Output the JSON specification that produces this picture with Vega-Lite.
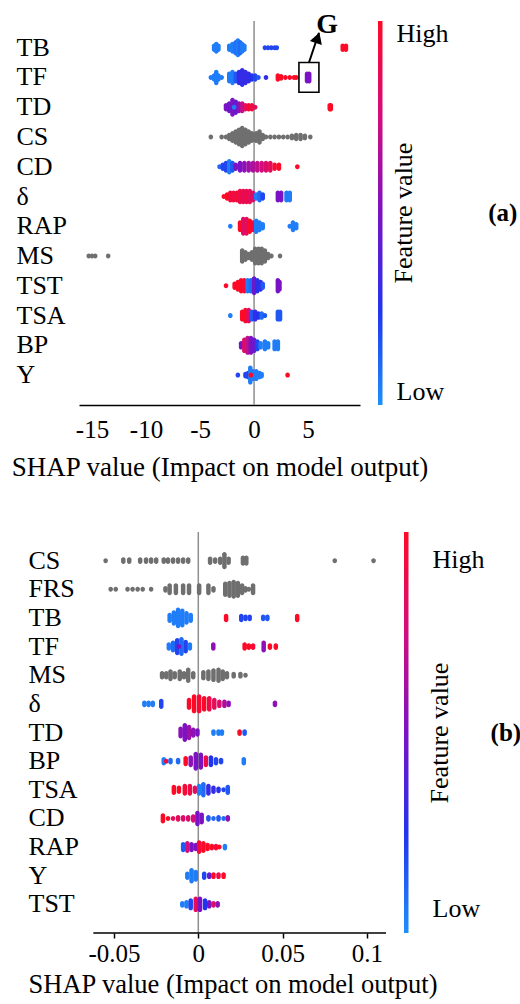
{
  "$schema": "https://vega.github.io/schema/vega-lite/v6.json",
  "background": "white",
  "padding": {"left": 10, "top": 10, "right": 2, "bottom": 2},
  "bounds": "flush",
  "spacing": 127,
  "config": {
    "font": "Liberation Serif",
    "view": {"stroke": null},
    "axis": {"labelFont": "Liberation Serif", "titleFont": "Liberation Serif", "labelColor": "black", "titleColor": "black", "titleFontWeight": "normal"},
    "legend": {"labelFont": "Liberation Serif", "titleFont": "Liberation Serif", "labelColor": "black", "titleColor": "black", "titleFontWeight": "normal"},
    "title": {"font": "Liberation Serif", "color": "black"}
  },
  "datasets": {
    "a": [
      {"f":"TB","x":-3.7,"n":2,"c":0.05},{"f":"TB","x":-3.5,"n":3,"c":0.05},{"f":"TB","x":-3.3,"n":2,"c":0.05},
      {"f":"TB","x":-2.3,"n":2,"c":0.05},{"f":"TB","x":-2.0,"n":3,"c":0.05},{"f":"TB","x":-1.7,"n":4,"c":0.08},{"f":"TB","x":-1.5,"n":5,"c":0.05},{"f":"TB","x":-1.3,"n":4,"c":0.1},{"f":"TB","x":-1.1,"n":3,"c":0.05},{"f":"TB","x":-0.9,"n":2,"c":0.05},
      {"f":"TB","x":1.0,"n":1,"c":0.2},{"f":"TB","x":1.3,"n":1,"c":0.2},{"f":"TB","x":1.6,"n":1,"c":0.2},{"f":"TB","x":1.9,"n":1,"c":0.2},{"f":"TB","x":2.1,"n":1,"c":0.2},
      {"f":"TB","x":8.2,"n":2,"c":1},{"f":"TB","x":8.5,"n":2,"c":1},
      {"f":"TF","x":-4.0,"n":1,"c":0.05},{"f":"TF","x":-3.7,"n":2,"c":0.05},{"f":"TF","x":-3.5,"n":4,"c":0.05},{"f":"TF","x":-3.3,"n":2,"c":0.05},{"f":"TF","x":-3.0,"n":1,"c":0.05},
      {"f":"TF","x":-2.3,"n":3,"c":0.05},{"f":"TF","x":-2.0,"n":4,"c":0.05},{"f":"TF","x":-1.7,"n":3,"c":0.15},{"f":"TF","x":-1.4,"n":4,"c":0.3},{"f":"TF","x":-1.1,"n":5,"c":0.3},{"f":"TF","x":-0.8,"n":4,"c":0.3},{"f":"TF","x":-0.5,"n":3,"c":0.3},{"f":"TF","x":-0.2,"n":2,"c":0.25},{"f":"TF","x":0.1,"n":2,"c":0.2},{"f":"TF","x":0.4,"n":1,"c":0.15},
      {"f":"TF","x":1.1,"n":1,"c":0.3},
      {"f":"TF","x":2.2,"n":2,"c":1},{"f":"TF","x":2.5,"n":1.5,"c":1},{"f":"TF","x":2.9,"n":1,"c":1},{"f":"TF","x":3.3,"n":1,"c":1},{"f":"TF","x":3.7,"n":1,"c":1},{"f":"TF","x":3.9,"n":1,"c":1},
      {"f":"TF","x":4.9,"n":3,"c":0.5},{"f":"TF","x":5.1,"n":3,"c":0.5},
      {"f":"TD","x":-2.6,"n":2,"c":0.5},{"f":"TD","x":-2.3,"n":3,"c":0.45},{"f":"TD","x":-2.0,"n":5,"c":0.5},{"f":"TD","x":-1.7,"n":4,"c":0.45},{"f":"TD","x":-1.4,"n":3,"c":0.55},{"f":"TD","x":-1.1,"n":3,"c":0.7},{"f":"TD","x":-0.8,"n":2,"c":0.85},{"f":"TD","x":-0.5,"n":2,"c":0.95},{"f":"TD","x":-0.2,"n":2,"c":0.9},{"f":"TD","x":0.1,"n":1,"c":0.85},{"f":"TD","x":-1.85,"n":1,"c":0.05},
      {"f":"TD","x":7.0,"n":2,"c":1},{"f":"TD","x":7.1,"n":2,"c":1},
      {"f":"CS","x":-4.0,"n":1,"c":null},{"f":"CS","x":-3.0,"n":1,"c":null},{"f":"CS","x":-2.6,"n":1,"c":null},{"f":"CS","x":-2.3,"n":2,"c":null},{"f":"CS","x":-2.0,"n":3,"c":null},{"f":"CS","x":-1.7,"n":4,"c":null},{"f":"CS","x":-1.4,"n":5,"c":null},{"f":"CS","x":-1.1,"n":6,"c":null},{"f":"CS","x":-0.8,"n":5,"c":null},{"f":"CS","x":-0.5,"n":4,"c":null},{"f":"CS","x":-0.2,"n":3,"c":null},
      {"f":"CS","x":0.2,"n":3,"c":null},{"f":"CS","x":0.5,"n":4,"c":null},{"f":"CS","x":0.8,"n":2,"c":null},{"f":"CS","x":1.1,"n":1,"c":null},{"f":"CS","x":1.5,"n":1,"c":null},{"f":"CS","x":1.9,"n":1,"c":null},{"f":"CS","x":2.3,"n":1,"c":null},{"f":"CS","x":2.7,"n":1,"c":null},{"f":"CS","x":3.1,"n":1,"c":null},{"f":"CS","x":3.5,"n":1.5,"c":null},{"f":"CS","x":3.9,"n":2,"c":null},{"f":"CS","x":4.3,"n":2,"c":null},{"f":"CS","x":4.7,"n":1.5,"c":null},{"f":"CS","x":5.2,"n":1,"c":null},
      {"f":"CD","x":-3.2,"n":1,"c":0.1},{"f":"CD","x":-2.9,"n":2,"c":0.2},{"f":"CD","x":-2.6,"n":3,"c":0.2},{"f":"CD","x":-2.3,"n":4,"c":0.05},{"f":"CD","x":-2.0,"n":3,"c":0.15},
      {"f":"CD","x":-1.7,"n":2,"c":0.5},{"f":"CD","x":-1.3,"n":3,"c":0.5},{"f":"CD","x":-0.9,"n":3,"c":0.55},{"f":"CD","x":-0.5,"n":3,"c":0.6},{"f":"CD","x":-0.1,"n":3,"c":0.65},{"f":"CD","x":0.3,"n":3,"c":0.7},{"f":"CD","x":0.7,"n":3,"c":0.75},{"f":"CD","x":1.1,"n":3,"c":0.8},{"f":"CD","x":1.5,"n":3,"c":0.85},{"f":"CD","x":1.9,"n":2,"c":0.95},{"f":"CD","x":2.3,"n":2,"c":1},{"f":"CD","x":4.0,"n":1,"c":1},
      {"f":"δ","x":-2.8,"n":1,"c":1},{"f":"δ","x":-2.5,"n":2,"c":1},{"f":"δ","x":-2.2,"n":3,"c":0.95},{"f":"δ","x":-1.9,"n":3,"c":0.9},{"f":"δ","x":-1.6,"n":3,"c":0.95},{"f":"δ","x":-1.3,"n":4,"c":0.9},{"f":"δ","x":-1.0,"n":4,"c":0.85},{"f":"δ","x":-0.7,"n":4,"c":0.9},{"f":"δ","x":-0.4,"n":4,"c":0.85},{"f":"δ","x":-0.1,"n":3,"c":0.8},
      {"f":"δ","x":0.2,"n":2,"c":0.05},{"f":"δ","x":0.5,"n":3,"c":0.1},{"f":"δ","x":0.8,"n":2,"c":0.2},{"f":"δ","x":2.2,"n":3,"c":0.5},{"f":"δ","x":2.5,"n":3,"c":0.5},{"f":"δ","x":3.0,"n":3,"c":0.05},{"f":"δ","x":3.3,"n":3,"c":0.05},
      {"f":"RAP","x":-2.2,"n":1,"c":0.05},{"f":"RAP","x":-1.3,"n":3,"c":1},{"f":"RAP","x":-1.0,"n":5,"c":0.8},{"f":"RAP","x":-0.7,"n":5,"c":0.85},{"f":"RAP","x":-0.4,"n":4,"c":1},{"f":"RAP","x":-0.1,"n":3,"c":0.9},
      {"f":"RAP","x":0.2,"n":4,"c":0.05},{"f":"RAP","x":0.5,"n":3,"c":0.05},{"f":"RAP","x":0.8,"n":2,"c":0.05},{"f":"RAP","x":3.3,"n":1,"c":0.05},{"f":"RAP","x":3.6,"n":3,"c":0.05},{"f":"RAP","x":3.9,"n":2,"c":0.05},
      {"f":"MS","x":-15.3,"n":1,"c":null},{"f":"MS","x":-15.0,"n":1,"c":null},{"f":"MS","x":-14.7,"n":1,"c":null},{"f":"MS","x":-13.5,"n":1,"c":null},
      {"f":"MS","x":-1.1,"n":4,"c":null},{"f":"MS","x":-0.8,"n":3,"c":null},{"f":"MS","x":-0.5,"n":2,"c":null},{"f":"MS","x":-0.2,"n":3,"c":null},{"f":"MS","x":0.1,"n":5,"c":null},{"f":"MS","x":0.4,"n":5,"c":null},{"f":"MS","x":0.7,"n":5,"c":null},{"f":"MS","x":1.0,"n":4,"c":null},{"f":"MS","x":1.3,"n":2,"c":null},{"f":"MS","x":1.6,"n":1,"c":null},{"f":"MS","x":2.4,"n":1,"c":null},
      {"f":"TST","x":-2.6,"n":1,"c":1},{"f":"TST","x":-1.8,"n":2,"c":1},{"f":"TST","x":-1.5,"n":3,"c":1},{"f":"TST","x":-1.2,"n":4,"c":1},{"f":"TST","x":-0.9,"n":4,"c":0.95},
      {"f":"TST","x":-0.6,"n":4,"c":0.05},{"f":"TST","x":-0.3,"n":4,"c":0.1},{"f":"TST","x":0.0,"n":5,"c":0.45},{"f":"TST","x":0.3,"n":4,"c":0.25},{"f":"TST","x":0.6,"n":3,"c":0.3},{"f":"TST","x":0.8,"n":2,"c":0.15},{"f":"TST","x":2.2,"n":4,"c":0.5},{"f":"TST","x":2.35,"n":3,"c":0.5},
      {"f":"TSA","x":-2.2,"n":1,"c":0.05},{"f":"TSA","x":-1.1,"n":3,"c":1},{"f":"TSA","x":-0.8,"n":4,"c":1},{"f":"TSA","x":-0.5,"n":4,"c":0.8},{"f":"TSA","x":-0.2,"n":3,"c":0.15},{"f":"TSA","x":0.1,"n":3,"c":0.3},{"f":"TSA","x":0.4,"n":2,"c":0.25},{"f":"TSA","x":0.7,"n":2,"c":0.1},{"f":"TSA","x":1.0,"n":1,"c":0.15},{"f":"TSA","x":2.2,"n":3,"c":0.15},{"f":"TSA","x":2.4,"n":3,"c":0.15},
      {"f":"BP","x":-1.2,"n":2,"c":0.5},{"f":"BP","x":-0.9,"n":4,"c":0.8},{"f":"BP","x":-0.6,"n":5,"c":0.7},{"f":"BP","x":-0.3,"n":5,"c":0.5},{"f":"BP","x":0.0,"n":4,"c":0.45},{"f":"BP","x":0.3,"n":3,"c":0.2},{"f":"BP","x":0.6,"n":2,"c":0.05},{"f":"BP","x":1.0,"n":3,"c":0.05},{"f":"BP","x":1.3,"n":2,"c":0.05},{"f":"BP","x":1.9,"n":3,"c":0.05},{"f":"BP","x":2.2,"n":3,"c":0.05},
      {"f":"Y","x":-1.5,"n":1,"c":0.2},{"f":"Y","x":-0.8,"n":1.5,"c":0.2},{"f":"Y","x":-0.55,"n":2,"c":0.2},{"f":"Y","x":-0.35,"n":5,"c":0.05},{"f":"Y","x":-0.1,"n":3,"c":0.05},{"f":"Y","x":0.2,"n":3,"c":0.05},{"f":"Y","x":0.5,"n":2,"c":0.05},{"f":"Y","x":0.7,"n":1.5,"c":0.05},{"f":"Y","x":-0.3,"n":1,"c":1},{"f":"Y","x":3.1,"n":1,"c":1}
    ],
    "b": [
      {"f":"CS","x":-0.055,"n":1,"c":null},{"f":"CS","x":-0.0445,"n":1.5,"c":null},{"f":"CS","x":-0.041,"n":1.5,"c":null},{"f":"CS","x":-0.0345,"n":1.5,"c":null},{"f":"CS","x":-0.031,"n":1.5,"c":null},{"f":"CS","x":-0.028,"n":1.5,"c":null},{"f":"CS","x":-0.025,"n":1.5,"c":null},{"f":"CS","x":-0.0205,"n":1.5,"c":null},{"f":"CS","x":-0.018,"n":1.5,"c":null},{"f":"CS","x":-0.015,"n":1.5,"c":null},{"f":"CS","x":-0.012,"n":1.5,"c":null},{"f":"CS","x":-0.009,"n":1.5,"c":null},{"f":"CS","x":-0.006,"n":1.5,"c":null},
      {"f":"CS","x":0.007,"n":2,"c":null},{"f":"CS","x":0.010,"n":1.5,"c":null},{"f":"CS","x":0.013,"n":2,"c":null},{"f":"CS","x":0.0155,"n":4.5,"c":null},{"f":"CS","x":0.018,"n":2,"c":null},{"f":"CS","x":0.0265,"n":2.5,"c":null},{"f":"CS","x":0.0285,"n":2.5,"c":null},{"f":"CS","x":0.081,"n":1,"c":null},{"f":"CS","x":0.104,"n":1,"c":null},
      {"f":"FRS","x":-0.052,"n":1,"c":null},{"f":"FRS","x":-0.049,"n":1,"c":null},{"f":"FRS","x":-0.042,"n":1,"c":null},{"f":"FRS","x":-0.039,"n":1,"c":null},{"f":"FRS","x":-0.036,"n":1,"c":null},{"f":"FRS","x":-0.033,"n":1,"c":null},{"f":"FRS","x":-0.028,"n":1,"c":null},{"f":"FRS","x":-0.0195,"n":1.5,"c":null},{"f":"FRS","x":-0.017,"n":3,"c":null},{"f":"FRS","x":-0.0133,"n":3,"c":null},{"f":"FRS","x":-0.009,"n":3,"c":null},{"f":"FRS","x":-0.0055,"n":3,"c":null},{"f":"FRS","x":0.0005,"n":3,"c":null},{"f":"FRS","x":0.006,"n":3,"c":null},{"f":"FRS","x":0.009,"n":1.5,"c":null},
      {"f":"FRS","x":0.016,"n":4,"c":null},{"f":"FRS","x":0.0185,"n":4.5,"c":null},{"f":"FRS","x":0.021,"n":5,"c":null},{"f":"FRS","x":0.0235,"n":4.5,"c":null},{"f":"FRS","x":0.026,"n":3,"c":null},{"f":"FRS","x":0.028,"n":1.5,"c":null},{"f":"FRS","x":0.030,"n":1,"c":null},{"f":"FRS","x":0.0325,"n":3,"c":null},
      {"f":"TB","x":-0.017,"n":2.5,"c":0.05},{"f":"TB","x":-0.0145,"n":4,"c":0.05},{"f":"TB","x":-0.012,"n":5.5,"c":0.05},{"f":"TB","x":-0.0095,"n":5,"c":0.05},{"f":"TB","x":-0.007,"n":3.5,"c":0.05},{"f":"TB","x":-0.0045,"n":2.5,"c":0.05},{"f":"TB","x":0.0165,"n":2,"c":1},{"f":"TB","x":0.0255,"n":2,"c":0.2},{"f":"TB","x":0.028,"n":1.5,"c":0.2},{"f":"TB","x":0.0305,"n":1.5,"c":0.2},{"f":"TB","x":0.0385,"n":1.5,"c":0.15},{"f":"TB","x":0.041,"n":1.5,"c":0.15},{"f":"TB","x":0.0587,"n":2,"c":1},
      {"f":"TF","x":-0.0175,"n":2,"c":0.05},{"f":"TF","x":-0.015,"n":3,"c":0.1},{"f":"TF","x":-0.0125,"n":4.5,"c":0.2},{"f":"TF","x":-0.010,"n":5,"c":0.1},{"f":"TF","x":-0.0075,"n":3.5,"c":0.2},{"f":"TF","x":-0.005,"n":2,"c":0.05},{"f":"TF","x":-0.0115,"n":1,"c":0.5},{"f":"TF","x":0.0089,"n":2,"c":0.55},{"f":"TF","x":0.0275,"n":2,"c":1},{"f":"TF","x":0.030,"n":1.5,"c":1},{"f":"TF","x":0.0325,"n":1.5,"c":0.95},{"f":"TF","x":0.0388,"n":3,"c":0.55},{"f":"TF","x":0.0425,"n":1.5,"c":1},{"f":"TF","x":0.046,"n":1.5,"c":1},
      {"f":"MS","x":-0.0215,"n":2,"c":null},{"f":"MS","x":-0.019,"n":2,"c":null},{"f":"MS","x":-0.0165,"n":3,"c":null},{"f":"MS","x":-0.014,"n":2,"c":null},{"f":"MS","x":-0.011,"n":3,"c":null},{"f":"MS","x":-0.0085,"n":2,"c":null},{"f":"MS","x":-0.006,"n":4,"c":null},{"f":"MS","x":-0.003,"n":2,"c":null},{"f":"MS","x":0.003,"n":2.5,"c":null},{"f":"MS","x":0.006,"n":3,"c":null},{"f":"MS","x":0.009,"n":3.5,"c":null},{"f":"MS","x":0.012,"n":4,"c":null},{"f":"MS","x":0.0145,"n":3,"c":null},{"f":"MS","x":0.017,"n":2,"c":null},{"f":"MS","x":0.021,"n":1.5,"c":null},{"f":"MS","x":0.025,"n":1.5,"c":null},{"f":"MS","x":0.028,"n":1,"c":null},
      {"f":"δ","x":-0.032,"n":1.5,"c":0.05},{"f":"δ","x":-0.0295,"n":1.5,"c":0.05},{"f":"δ","x":-0.027,"n":1.5,"c":0.05},{"f":"δ","x":-0.022,"n":2.5,"c":0.2},{"f":"δ","x":-0.0055,"n":3,"c":1},{"f":"δ","x":-0.0025,"n":5,"c":1},{"f":"δ","x":0.0005,"n":5,"c":0.95},{"f":"δ","x":0.0035,"n":4,"c":1},{"f":"δ","x":0.0065,"n":4,"c":0.9},{"f":"δ","x":0.0095,"n":3,"c":0.85},{"f":"δ","x":0.0125,"n":2,"c":0.8},{"f":"δ","x":0.0155,"n":2,"c":0.65},{"f":"δ","x":0.018,"n":1.5,"c":0.55},{"f":"δ","x":0.0455,"n":1.5,"c":0.55},
      {"f":"TD","x":-0.0105,"n":3,"c":0.55},{"f":"TD","x":-0.008,"n":5,"c":0.5},{"f":"TD","x":-0.0055,"n":4,"c":0.6},{"f":"TD","x":-0.003,"n":2.5,"c":0.55},{"f":"TD","x":-0.0005,"n":2,"c":0.5},{"f":"TD","x":0.009,"n":1.5,"c":0.05},{"f":"TD","x":0.012,"n":1.5,"c":0.05},{"f":"TD","x":0.014,"n":1.5,"c":0.05},{"f":"TD","x":0.0245,"n":1.5,"c":1},{"f":"TD","x":0.0275,"n":1.5,"c":0.15},
      {"f":"BP","x":-0.0205,"n":2,"c":0.05},{"f":"BP","x":-0.019,"n":1,"c":0.95},{"f":"BP","x":-0.0165,"n":1.5,"c":0.1},{"f":"BP","x":-0.012,"n":1.5,"c":0.1},{"f":"BP","x":-0.0075,"n":2.5,"c":1},{"f":"BP","x":-0.0045,"n":3,"c":0.55},{"f":"BP","x":-0.0015,"n":5,"c":0.5},{"f":"BP","x":0.0015,"n":4.5,"c":0.5},{"f":"BP","x":0.0045,"n":3,"c":0.9},{"f":"BP","x":0.0075,"n":3,"c":0.25},{"f":"BP","x":0.0105,"n":2,"c":0.2},{"f":"BP","x":0.0135,"n":1.5,"c":0.2},{"f":"BP","x":0.027,"n":2,"c":0.05},
      {"f":"TSA","x":-0.0145,"n":2.5,"c":1},{"f":"TSA","x":-0.0115,"n":2,"c":1},{"f":"TSA","x":-0.008,"n":3,"c":0.95},{"f":"TSA","x":-0.005,"n":3,"c":0.9},{"f":"TSA","x":-0.002,"n":2,"c":0.85},{"f":"TSA","x":0.0005,"n":3,"c":0.05},{"f":"TSA","x":0.003,"n":4,"c":0.1},{"f":"TSA","x":0.006,"n":3,"c":0.3},{"f":"TSA","x":0.009,"n":2,"c":0.3},{"f":"TSA","x":0.012,"n":1.5,"c":0.25},{"f":"TSA","x":0.015,"n":1,"c":0.2},{"f":"TSA","x":0.0175,"n":2.5,"c":0.15},
      {"f":"CD","x":-0.021,"n":2.5,"c":1},{"f":"CD","x":-0.018,"n":1,"c":1},{"f":"CD","x":-0.015,"n":1,"c":0.85},{"f":"CD","x":-0.012,"n":1.5,"c":0.85},{"f":"CD","x":-0.009,"n":1.5,"c":0.8},{"f":"CD","x":-0.006,"n":1.5,"c":0.8},{"f":"CD","x":-0.003,"n":2,"c":0.75},{"f":"CD","x":-0.0005,"n":4,"c":0.5},{"f":"CD","x":0.002,"n":3,"c":0.5},{"f":"CD","x":0.006,"n":1.5,"c":0.15},{"f":"CD","x":0.009,"n":1,"c":0.1},{"f":"CD","x":0.012,"n":1.5,"c":0.15},{"f":"CD","x":0.015,"n":1,"c":0.1},{"f":"CD","x":0.0175,"n":1.5,"c":0.55},
      {"f":"RAP","x":-0.009,"n":2.5,"c":0.15},{"f":"RAP","x":-0.0065,"n":3,"c":0.75},{"f":"RAP","x":-0.004,"n":2.5,"c":0.5},{"f":"RAP","x":-0.0015,"n":2,"c":0.5},{"f":"RAP","x":0.0005,"n":3.5,"c":0.95},{"f":"RAP","x":0.003,"n":3,"c":1},{"f":"RAP","x":0.0055,"n":2,"c":1},{"f":"RAP","x":0.008,"n":1.5,"c":1},{"f":"RAP","x":0.0105,"n":1.5,"c":0.95},{"f":"RAP","x":0.0125,"n":1,"c":1},{"f":"RAP","x":0.0158,"n":1.5,"c":0.05},
      {"f":"Y","x":-0.0065,"n":2,"c":0.05},{"f":"Y","x":-0.004,"n":4,"c":0.05},{"f":"Y","x":-0.0015,"n":3,"c":0.05},{"f":"Y","x":0.0035,"n":2,"c":0.2},{"f":"Y","x":0.0065,"n":1.5,"c":0.45},{"f":"Y","x":0.009,"n":1.5,"c":1},{"f":"Y","x":0.012,"n":1.5,"c":0.9},{"f":"Y","x":0.015,"n":1.5,"c":1},
      {"f":"TST","x":-0.0095,"n":1.5,"c":0.05},{"f":"TST","x":-0.007,"n":2,"c":0.05},{"f":"TST","x":-0.0045,"n":3,"c":0.2},{"f":"TST","x":-0.0015,"n":4,"c":0.85},{"f":"TST","x":0.001,"n":4,"c":0.5},{"f":"TST","x":0.004,"n":3,"c":0.25},{"f":"TST","x":0.0065,"n":2,"c":0.5},{"f":"TST","x":0.009,"n":1.5,"c":0.8},{"f":"TST","x":0.0115,"n":1.5,"c":0.55}
    ]
  },
  "vconcat": [
    {
      "width": 281,
      "height": 384,
      "title": {"text": "(a)", "orient": "right", "angle": 0, "anchor": "middle", "align": "left", "baseline": "middle", "fontSize": 25, "fontWeight": "bold", "offset": 10},
      "layer": [
        {
          "data": {"values": [{}]},
          "mark": {"type": "rule", "color": "#8f8f8f", "strokeWidth": 1.5},
          "encoding": {"x": {"datum": 0, "type": "quantitative", "scale": {"domain": [-16.2, 9.8], "nice": false, "zero": false}}}
        },
        {
          "data": {"name": "a"},
          "transform": [{"filter": "datum.c == null"}],
          "mark": {"type": "tick", "thickness": 4.5, "cornerRadius": 2.2, "opacity": 1, "color": "#6f6f6f"},
          "encoding": {
            "x": {"field": "x", "type": "quantitative", "scale": {"domain": [-16.2, 9.8], "nice": false, "zero": false},
                  "axis": {"values": [-15, -10, -5, 0, 5], "labelExpr": "'' + datum.value", "title": "SHAP value (Impact on model output)", "titleFontSize": 27, "titlePadding": 12, "labelFontSize": 25, "labelPadding": 12, "ticks": false, "grid": false, "domainColor": "black", "domainWidth": 1.5, "labelFlush": false}},
            "y": {"field": "f", "type": "nominal", "scale": {"type": "band", "domain": ["TB","TF","TD","CS","CD","δ","RAP","MS","TST","TSA","BP","Y"], "paddingInner": 0, "paddingOuter": 0.45, "align": 0.44},
                  "axis": {"title": null, "ticks": false, "domain": false, "labelAlign": "left", "labelPadding": 63, "labelFontSize": 26, "labelBaseline": "middle", "grid": false}},
            "size": {"field": "n", "type": "quantitative", "scale": {"domain": [0, 6], "range": [1.5, 22.5]}, "legend": null}
          }
        },
        {
          "data": {"name": "a"},
          "transform": [{"filter": "datum.c != null"}],
          "mark": {"type": "tick", "thickness": 4.5, "cornerRadius": 2.2, "opacity": 1},
          "encoding": {
            "x": {"field": "x", "type": "quantitative"},
            "y": {"field": "f", "type": "nominal", "scale": {"type": "band", "domain": ["TB","TF","TD","CS","CD","δ","RAP","MS","TST","TSA","BP","Y"], "paddingInner": 0, "paddingOuter": 0.45, "align": 0.44}},
            "size": {"field": "n", "type": "quantitative", "scale": {"domain": [0, 6], "range": [1.5, 22.5]}, "legend": null},
            "color": {
              "field": "c", "type": "quantitative",
              "scale": {"domain": [0, 0.25, 0.5, 0.75, 1], "range": ["#1e8ffb", "#2233ee", "#7b12c4", "#d30d7c", "#ff0a26"], "interpolate": "rgb"},
              "legend": {"title": "Feature value", "orient": "right", "offset": 31, "direction": "vertical", "gradientLength": 384, "gradientThickness": 4.5, "gradientStrokeWidth": 0, "values": [0, 1], "labelExpr": "datum.value > 0.5 ? 'High' : 'Low'", "labelFontSize": 26, "labelOffset": 14, "titleOrient": "left", "titleFontSize": 26, "titleAnchor": "middle", "titlePadding": -40}
            }
          }
        },
        {
          "data": {"values": [{"f": "TF", "x": 4.15, "x2": 6.0}]},
          "mark": {"type": "rect", "filled": false, "stroke": "black", "strokeWidth": 1.6},
          "encoding": {
            "x": {"field": "x", "type": "quantitative"},
            "x2": {"field": "x2"},
            "y": {"field": "f", "type": "nominal", "scale": {"type": "band", "domain": ["TB","TF","TD","CS","CD","δ","RAP","MS","TST","TSA","BP","Y"], "paddingInner": 0, "paddingOuter": 0.45, "align": 0.44}}
          }
        },
        {
          "data": {"values": [{"f": "TF", "x": 5.08}, {"f": "TB", "x": 6.0}]},
          "mark": {"type": "line", "color": "black", "strokeWidth": 2},
          "encoding": {
            "x": {"field": "x", "type": "quantitative"},
            "y": {"field": "f", "type": "nominal", "bandPosition": 0, "scale": {"type": "band", "domain": ["TB","TF","TD","CS","CD","δ","RAP","MS","TST","TSA","BP","Y"], "paddingInner": 0, "paddingOuter": 0.45, "align": 0.44}}
          }
        },
        {
          "data": {"values": [{"f": "TB", "x": 5.88}]},
          "mark": {"type": "point", "shape": "triangle-up", "filled": true, "color": "black", "size": 160, "angle": 19, "yOffset": 5, "opacity": 1},
          "encoding": {
            "x": {"field": "x", "type": "quantitative"},
            "y": {"field": "f", "type": "nominal", "bandPosition": 0, "scale": {"type": "band", "domain": ["TB","TF","TD","CS","CD","δ","RAP","MS","TST","TSA","BP","Y"], "paddingInner": 0, "paddingOuter": 0.45, "align": 0.44}}
          }
        },
        {
          "data": {"values": [{"f": "TB", "x": 6.77, "t": "G"}]},
          "mark": {"type": "text", "fontSize": 28, "fontWeight": "bold", "baseline": "alphabetic", "align": "center", "color": "black"},
          "encoding": {
            "x": {"field": "x", "type": "quantitative"},
            "y": {"field": "f", "type": "nominal", "bandPosition": 0, "scale": {"type": "band", "domain": ["TB","TF","TD","CS","CD","δ","RAP","MS","TST","TSA","BP","Y"], "paddingInner": 0, "paddingOuter": 0.45, "align": 0.44}},
            "text": {"field": "t"}
          }
        }
      ]
    },
    {
      "width": 307,
      "height": 401,
      "title": {"text": "(b)", "orient": "right", "angle": 0, "anchor": "middle", "align": "left", "baseline": "middle", "fontSize": 25, "fontWeight": "bold", "offset": -25},
      "layer": [
        {
          "data": {"values": [{}]},
          "mark": {"type": "rule", "color": "#8f8f8f", "strokeWidth": 1.5},
          "encoding": {"x": {"datum": 0, "type": "quantitative", "scale": {"domain": [-0.0708, 0.1114], "nice": false, "zero": false}}}
        },
        {
          "data": {"values": [{}]},
          "mark": {"type": "rule", "color": "black", "strokeWidth": 1.5},
          "encoding": {"x": {"datum": -0.0623, "type": "quantitative"}, "x2": {"datum": 0.1114}, "y": {"value": "height"}}
        },
        {
          "data": {"name": "b"},
          "transform": [{"filter": "datum.c == null"}],
          "mark": {"type": "tick", "thickness": 4.5, "cornerRadius": 2.2, "opacity": 1, "color": "#6f6f6f"},
          "encoding": {
            "x": {"field": "x", "type": "quantitative", "scale": {"domain": [-0.0708, 0.1114], "nice": false, "zero": false},
                  "axis": {"values": [-0.05, 0, 0.05, 0.1], "labelExpr": "'' + datum.value", "title": "SHAP value (Impact on model output)", "titleFontSize": 26.5, "titlePadding": 5, "labelFontSize": 25, "labelPadding": 3, "ticks": true, "tickSize": 5, "tickColor": "black", "tickWidth": 1.5, "grid": false, "domain": false, "labelFlush": false}},
            "y": {"field": "f", "type": "nominal", "scale": {"type": "band", "domain": ["CS","FRS","TB","TF","MS","δ","TD","BP","TSA","CD","RAP","Y","TST"], "paddingInner": 0, "paddingOuter": 0.5, "align": 0.5},
                  "axis": {"title": null, "ticks": false, "domain": false, "labelAlign": "left", "labelPadding": 51, "labelFontSize": 26, "labelBaseline": "middle", "grid": false}},
            "size": {"field": "n", "type": "quantitative", "scale": {"domain": [0, 6], "range": [1.5, 22.5]}, "legend": null}
          }
        },
        {
          "data": {"name": "b"},
          "transform": [{"filter": "datum.c != null"}],
          "mark": {"type": "tick", "thickness": 4.5, "cornerRadius": 2.2, "opacity": 1},
          "encoding": {
            "x": {"field": "x", "type": "quantitative"},
            "y": {"field": "f", "type": "nominal", "scale": {"type": "band", "domain": ["CS","FRS","TB","TF","MS","δ","TD","BP","TSA","CD","RAP","Y","TST"], "paddingInner": 0, "paddingOuter": 0.5, "align": 0.5}},
            "size": {"field": "n", "type": "quantitative", "scale": {"domain": [0, 6], "range": [1.5, 22.5]}, "legend": null},
            "color": {
              "field": "c", "type": "quantitative",
              "scale": {"domain": [0, 0.25, 0.5, 0.75, 1], "range": ["#1e8ffb", "#2233ee", "#7b12c4", "#d30d7c", "#ff0a26"], "interpolate": "rgb"},
              "legend": {"title": "Feature value", "orient": "right", "offset": 41, "direction": "vertical", "gradientLength": 401, "gradientThickness": 4.5, "gradientStrokeWidth": 0, "values": [0.06, 0.93], "labelExpr": "datum.value > 0.5 ? 'High' : 'Low'", "labelFontSize": 26, "labelOffset": 24, "titleOrient": "left", "titleFontSize": 26, "titleAnchor": "middle", "titlePadding": -50}
            }
          }
        }
      ]
    }
  ],
  "resolve": {"scale": {"x": "independent", "y": "independent", "color": "independent", "size": "independent"}, "legend": {"color": "independent"}}
}
